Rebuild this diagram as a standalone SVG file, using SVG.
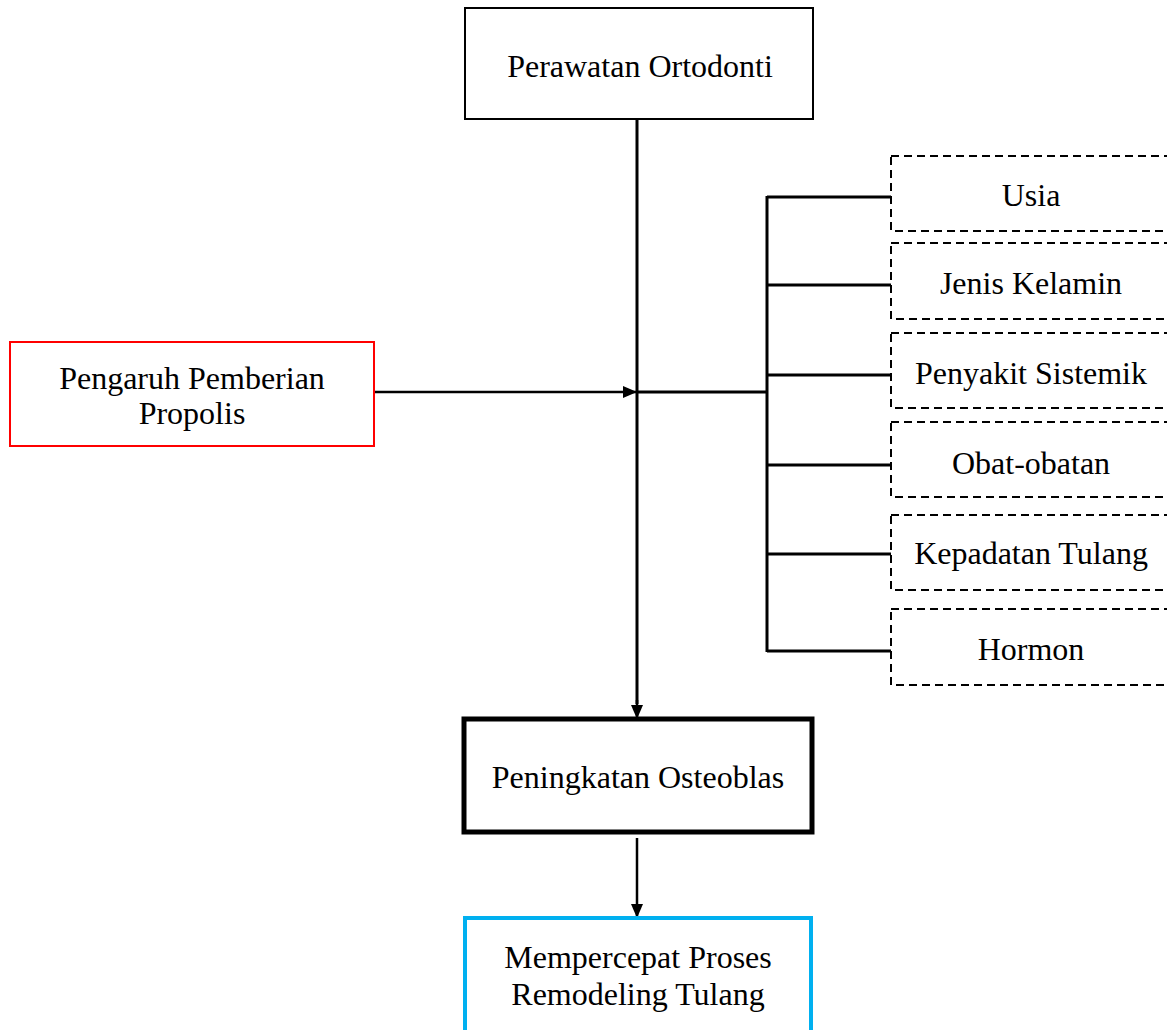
<svg xmlns="http://www.w3.org/2000/svg" width="1167" height="1030" viewBox="0 0 1167 1030">
<style>
text{font-family:"Liberation Serif","Times New Roman",serif;font-size:32px;fill:#000;text-anchor:middle}
.box{fill:#fff;stroke:#000;stroke-width:2}
.dash{fill:#fff;stroke:#000;stroke-width:2;stroke-dasharray:8 5}
.ln{stroke:#000;stroke-width:3;fill:none}
.ar{stroke:#000;stroke-width:2.5;fill:none}
</style>
<defs>
<marker id="ah" markerWidth="14" markerHeight="12" refX="14" refY="6" orient="auto" markerUnits="userSpaceOnUse">
<path d="M0,0 L14,6 L0,12 Z" fill="#000"/>
</marker>
</defs>
<rect width="1167" height="1030" fill="#fff"/>
<g id="connectors">
<line class="ln" x1="637" y1="120" x2="637" y2="704"/>
<path d="M637,700 L637,719" class="ar" marker-end="url(#ah)"/>
<line class="ar" x1="374" y1="392" x2="637" y2="392" marker-end="url(#ah)"/>
<line class="ln" x1="637" y1="392" x2="767" y2="392"/>
<line class="ln" x1="767" y1="196" x2="767" y2="652"/>
<line class="ln" x1="767" y1="197" x2="891" y2="197"/>
<line class="ln" x1="767" y1="285" x2="891" y2="285"/>
<line class="ln" x1="767" y1="375" x2="891" y2="375"/>
<line class="ln" x1="767" y1="465" x2="891" y2="465"/>
<line class="ln" x1="767" y1="554" x2="891" y2="554"/>
<line class="ln" x1="767" y1="651" x2="891" y2="651"/>
<line class="ar" x1="637" y1="838" x2="637" y2="918" marker-end="url(#ah)"/>
</g>
<g id="n-perawatan">
<rect class="box" x="465" y="8" width="348" height="111"/>
<text x="640" y="77">Perawatan Ortodonti</text>
</g>
<g id="n-propolis">
<rect x="10" y="342" width="364" height="104" fill="#fff" stroke="#FF0000" stroke-width="2"/>
<text x="192" y="389">Pengaruh Pemberian</text>
<text x="192" y="424">Propolis</text>
</g>
<g id="n-usia">
<rect class="dash" x="891" y="156" width="300" height="75"/>
<text x="1031" y="206">Usia</text>
</g>
<g id="n-jenis">
<rect class="dash" x="891" y="243" width="300" height="76"/>
<text x="1031" y="294">Jenis Kelamin</text>
</g>
<g id="n-penyakit">
<rect class="dash" x="891" y="333" width="300" height="75"/>
<text x="1031" y="384">Penyakit Sistemik</text>
</g>
<g id="n-obat">
<rect class="dash" x="891" y="422" width="300" height="75"/>
<text x="1031" y="474">Obat-obatan</text>
</g>
<g id="n-kepadatan">
<rect class="dash" x="891" y="515" width="300" height="75"/>
<text x="1031" y="564">Kepadatan Tulang</text>
</g>
<g id="n-hormon">
<rect class="dash" x="891" y="609" width="300" height="76"/>
<text x="1031" y="660">Hormon</text>
</g>
<g id="n-osteoblas">
<rect x="464" y="719" width="348" height="113" fill="#fff" stroke="#000" stroke-width="5"/>
<text x="638" y="788">Peningkatan Osteoblas</text>
</g>
<g id="n-remodeling">
<rect x="465" y="918" width="346" height="130" fill="#fff" stroke="#00B0F0" stroke-width="4"/>
<text x="638" y="968">Mempercepat Proses</text>
<text x="638" y="1005">Remodeling Tulang</text>
</g>
</svg>
